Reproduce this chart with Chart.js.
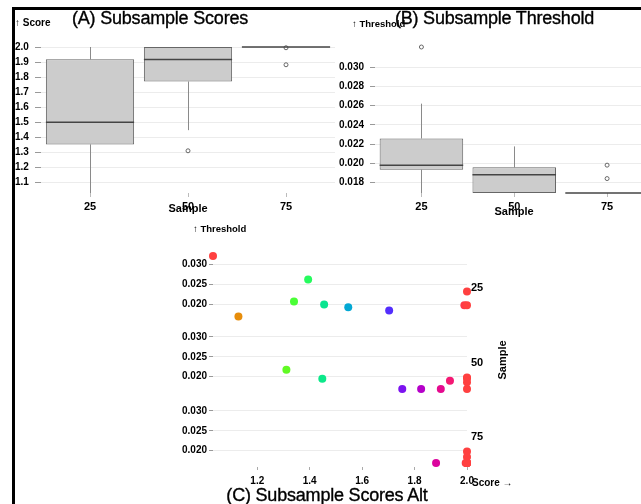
<!DOCTYPE html>
<html><head><meta charset="utf-8">
<script src="https://cdn.jsdelivr.net/npm/chart.js@4/dist/chart.umd.min.js"></script>
<style>
html,body{margin:0;padding:0;background:#fff;width:641px;height:504px;overflow:hidden;position:relative;font-family:"Liberation Sans",Arial,sans-serif;}
canvas{position:absolute;}
.t{position:absolute;white-space:nowrap;color:#000;line-height:1;}
.c{transform:translate(-50%,-50%);}
.l{transform:translate(0,-50%);}
.bd{position:absolute;background:#000;}
.ttl{font-size:18px;letter-spacing:-0.2px;-webkit-text-stroke:0.35px #000;}
</style></head><body>
<div class="bd" style="left:12px;top:7px;width:3px;height:497px;"></div>
<div class="bd" style="left:12px;top:7px;width:629px;height:3px;"></div>
<canvas id="cA" width="330" height="210" style="left:15px;top:10px;"></canvas>
<canvas id="cB" width="330" height="210" style="left:335px;top:10px;"></canvas>
<canvas id="c25" width="330" height="81" style="left:170px;top:246px;"></canvas>
<canvas id="c50" width="330" height="81" style="left:170px;top:318px;"></canvas>
<canvas id="c75" width="330" height="100" style="left:170px;top:392px;"></canvas>
<div id="txt"></div>
<script>
// ---------- data ----------
const samples = ['25', '50', '75'];
const score25  = [1.031, 1.128, 1.340, 1.394, 1.455, 1.547, 1.703, 1.990, 2.000, 2.000];
const thresh25 = [0.0321, 0.0169, 0.0207, 0.0262, 0.0199, 0.0192, 0.0184, 0.0197, 0.0197, 0.0232];
const score50  = [1.311, 1.448, 1.753, 1.825, 1.900, 1.935, 2.000, 2.000, 2.000, 2.000];
const thresh50 = [0.02175, 0.0195, 0.0169, 0.0169, 0.0169, 0.0190, 0.0198, 0.0196, 0.0186, 0.0169];
const score75  = [1.882, 1.995, 2.000, 2.000, 2.000, 2.000, 2.000, 2.000, 2.000, 2.000];
const thresh75 = [0.0169, 0.0169, 0.0198, 0.0184, 0.0169, 0.0169, 0.0169, 0.0169, 0.0169, 0.0169];
const scoreTicks = [1.1, 1.2, 1.3, 1.4, 1.5, 1.6, 1.7, 1.8, 1.9, 2.0];
const threshTicks = [0.018, 0.020, 0.022, 0.024, 0.026, 0.028, 0.030];
const rowThreshTicks = [0.020, 0.025, 0.030];
const altScoreTicks = [1.2, 1.4, 1.6, 1.8, 2.0];

const scoreGroups = [score25, score50, score75];
const threshGroups = [thresh25, thresh50, thresh75];

// ---------- helpers ----------
Chart.defaults.font.family = '"Liberation Sans", Arial, sans-serif';
Chart.defaults.color = '#000';

function quantile(s, p) {
  const h = (s.length - 1) * p, lo = Math.floor(h);
  const nxt = lo + 1 < s.length ? s[lo + 1] : s[lo];
  return s[lo] + (h - lo) * (nxt - s[lo]);
}
function boxStats(vals) {
  const s = [...vals].sort((a, b) => a - b);
  const q1 = quantile(s, 0.25), med = quantile(s, 0.5), q3 = quantile(s, 0.75), iqr = q3 - q1;
  const eps = 1e-9;
  const lo = s.find(v => v >= q1 - 1.5 * iqr - eps);
  const hi = [...s].reverse().find(v => v <= q3 + 1.5 * iqr + eps);
  const out = s.filter(v => v < lo - eps || v > hi + eps);
  return { q1, med, q3, lo, hi, out };
}
function sinebow(t) {
  t = (0.5 - t) * Math.PI;
  const r = Math.sin(t) ** 2, g = Math.sin(t + Math.PI / 3) ** 2, b = Math.sin(t + 2 * Math.PI / 3) ** 2;
  return `rgb(${Math.round(255 * r)},${Math.round(255 * g)},${Math.round(255 * b)})`;
}
function makeBoxPlugin(stats) {
  return {
    id: 'boxParts',
    beforeDatasetsDraw(chart) {
      const { ctx } = chart, y = chart.scales.y, meta = chart.getDatasetMeta(0);
      ctx.save(); ctx.strokeStyle = '#8a8a8a'; ctx.lineWidth = 1;
      stats.forEach((s, i) => {
        const px = Math.round(meta.data[i].x) + 0.5;
        ctx.beginPath();
        ctx.moveTo(px, y.getPixelForValue(s.lo)); ctx.lineTo(px, y.getPixelForValue(s.q1));
        ctx.moveTo(px, y.getPixelForValue(s.q3)); ctx.lineTo(px, y.getPixelForValue(s.hi));
        ctx.stroke();
      });
      ctx.restore();
    },
    afterDatasetsDraw(chart) {
      const { ctx } = chart, y = chart.scales.y, meta = chart.getDatasetMeta(0);
      ctx.save(); ctx.strokeStyle = '#444'; ctx.lineWidth = 1.5;
      stats.forEach((s, i) => {
        const el = meta.data[i], py = y.getPixelForValue(s.med);
        ctx.beginPath(); ctx.moveTo(el.x - el.width / 2, py); ctx.lineTo(el.x + el.width / 2, py); ctx.stroke();
      });
      ctx.restore();
    }
  };
}
const tickFont = { size: 10, weight: 'bold' };
const catFont = { size: 11, weight: 'bold' };

function boxChart(id, groups, ticks, decimals, yWidth, padRight, labelPad, tickLen) {
  const stats = groups.map(boxStats);
  const all = groups.flat();
  const outliers = [];
  stats.forEach((s, i) => s.out.forEach(v => outliers.push({ x: samples[i], y: v })));
  return new Chart(document.getElementById(id), {
    type: 'bar',
    data: {
      labels: samples,
      datasets: [
        { type: 'bar', data: stats.map(s => [s.q1, s.q3]), backgroundColor: '#cccccc', borderColor: '#666',
          borderWidth: 1, borderSkipped: false, categoryPercentage: 0.9, barPercentage: 1, order: 2 },
        { type: 'scatter', data: outliers, pointRadius: 2, pointBackgroundColor: 'rgba(0,0,0,0)',
          pointBorderColor: '#666', pointBorderWidth: 1, showLine: false, clip: false, order: 1 }
      ]
    },
    options: {
      responsive: false, animation: false, events: [],
      plugins: { legend: { display: false }, tooltip: { enabled: false } },
      layout: { padding: { top: 37, right: padRight, left: 0, bottom: 0 } },
      scales: {
        x: {
          type: 'category', offset: true,
          grid: { drawOnChartArea: false, offset: false, tickLength: 4, tickColor: '#bbb' },
          border: { display: false },
          ticks: { font: catFont, padding: 3, maxRotation: 0 },
          afterFit: s => { s.height = 27; }
        },
        y: {
          type: 'linear', bounds: 'data', min: Math.min(...all), max: Math.max(...all),
          afterBuildTicks: s => { s.ticks = ticks.map(v => ({ value: v })); },
          grid: { color: '#ececec', tickColor: '#999', tickLength: tickLen },
          border: { display: false },
          ticks: { font: tickFont, autoSkip: false, padding: labelPad, crossAlign: id === 'cA' ? 'far' : 'near',
                   callback: v => Number(v).toFixed(decimals) },
          afterFit: s => { s.width = yWidth; }
        }
      }
    },
    plugins: [makeBoxPlugin(stats)]
  });
}

boxChart('cA', scoreGroups, scoreTicks, 1, 26, 10, 3, 6);
boxChart('cB', threshGroups, threshTicks, 3, 40, 11.5, 6, 5);

// ---------- panel C ----------
const allScores = scoreGroups.flat(), allThresh = threshGroups.flat();
const sMin = Math.min(...allScores), sMax = Math.max(...allScores);
const tMin = Math.min(...allThresh), tMax = Math.max(...allThresh);
const rowIds = ['c25', 'c50', 'c75'];
const rowPads = [[10, 10.5], [10.5, 10], [10.5, 0]];
rowIds.forEach((id, r) => {
  const last = r === rowIds.length - 1;
  const pts = scoreGroups[r].map((s, i) => ({ x: s, y: threshGroups[r][i] }));
  new Chart(document.getElementById(id), {
    type: 'scatter',
    data: { datasets: [{ data: pts, pointRadius: 4, pointBorderWidth: 0,
      pointBackgroundColor: pts.map(p => sinebow((p.x - sMin) / (sMax - sMin))), clip: false }] },
    options: {
      responsive: false, animation: false, events: [],
      plugins: { legend: { display: false }, tooltip: { enabled: false } },
      layout: { padding: { top: rowPads[r][0], bottom: rowPads[r][1], right: 33, left: 0 } },
      scales: {
        x: {
          type: 'linear', display: last, bounds: 'data', min: sMin, max: sMax,
          afterBuildTicks: s => { s.ticks = altScoreTicks.map(v => ({ value: v })); },
          grid: { drawOnChartArea: false, tickLength: 7, tickColor: '#aaa', tickBorderDash: [0, 4, 3, 10] },
          border: { display: false },
          ticks: { font: tickFont, autoSkip: false, padding: 5, maxRotation: 0, callback: v => Number(v).toFixed(1) },
          afterFit: s => { s.height = last ? 29 : 0; }
        },
        y: {
          type: 'linear', bounds: 'data', min: tMin, max: tMax,
          afterBuildTicks: s => { s.ticks = rowThreshTicks.map(v => ({ value: v })); },
          grid: { color: '#ececec', tickColor: '#999', tickLength: 4 },
          border: { display: false },
          ticks: { font: tickFont, autoSkip: false, padding: 2, callback: v => Number(v).toFixed(3) },
          afterFit: s => { s.width = 43; }
        }
      }
    }
  });
});

// ---------- text ----------
const texts = [
  ['(A) Subsample Scores', 160, 18, 'c ttl', ''],
  ['↑ Score', 15, 22.5, 'l', 'font-size:10px;font-weight:bold;'],
  ['Sample', 188, 207.5, 'c', 'font-size:11px;font-weight:bold;'],
  ['↑ Threshold', 352, 24, 'l', 'font-size:9.5px;font-weight:bold;'],
  ['(B) Subsample Threshold', 494.5, 18, 'c ttl', ''],
  ['Sample', 514, 211, 'c', 'font-size:11px;font-weight:bold;'],
  ['↑ Threshold', 193, 229, 'l', 'font-size:9.5px;font-weight:bold;'],
  [samples[0], 471, 287, 'l', 'font-size:11px;font-weight:bold;'],
  [samples[1], 471, 362, 'l', 'font-size:11px;font-weight:bold;'],
  [samples[2], 471, 436, 'l', 'font-size:11px;font-weight:bold;'],
  ['Score →', 472, 482.5, 'l', 'font-size:10px;font-weight:bold;'],
  ['(C) Subsample Scores Alt', 327, 495, 'c ttl', '']
];
const host = document.getElementById('txt');
texts.forEach(([s, x, y, cls, st]) => {
  const d = document.createElement('div');
  d.className = 't ' + cls; d.textContent = s;
  d.style.cssText = `left:${x}px;top:${y}px;` + st;
  host.appendChild(d);
});
const sm = document.createElement('div');
sm.className = 't'; sm.textContent = 'Sample';
sm.style.cssText = 'left:502px;top:360px;font-size:11px;font-weight:bold;transform:translate(-50%,-50%) rotate(-90deg);';
host.appendChild(sm);
</script>
</body></html>
